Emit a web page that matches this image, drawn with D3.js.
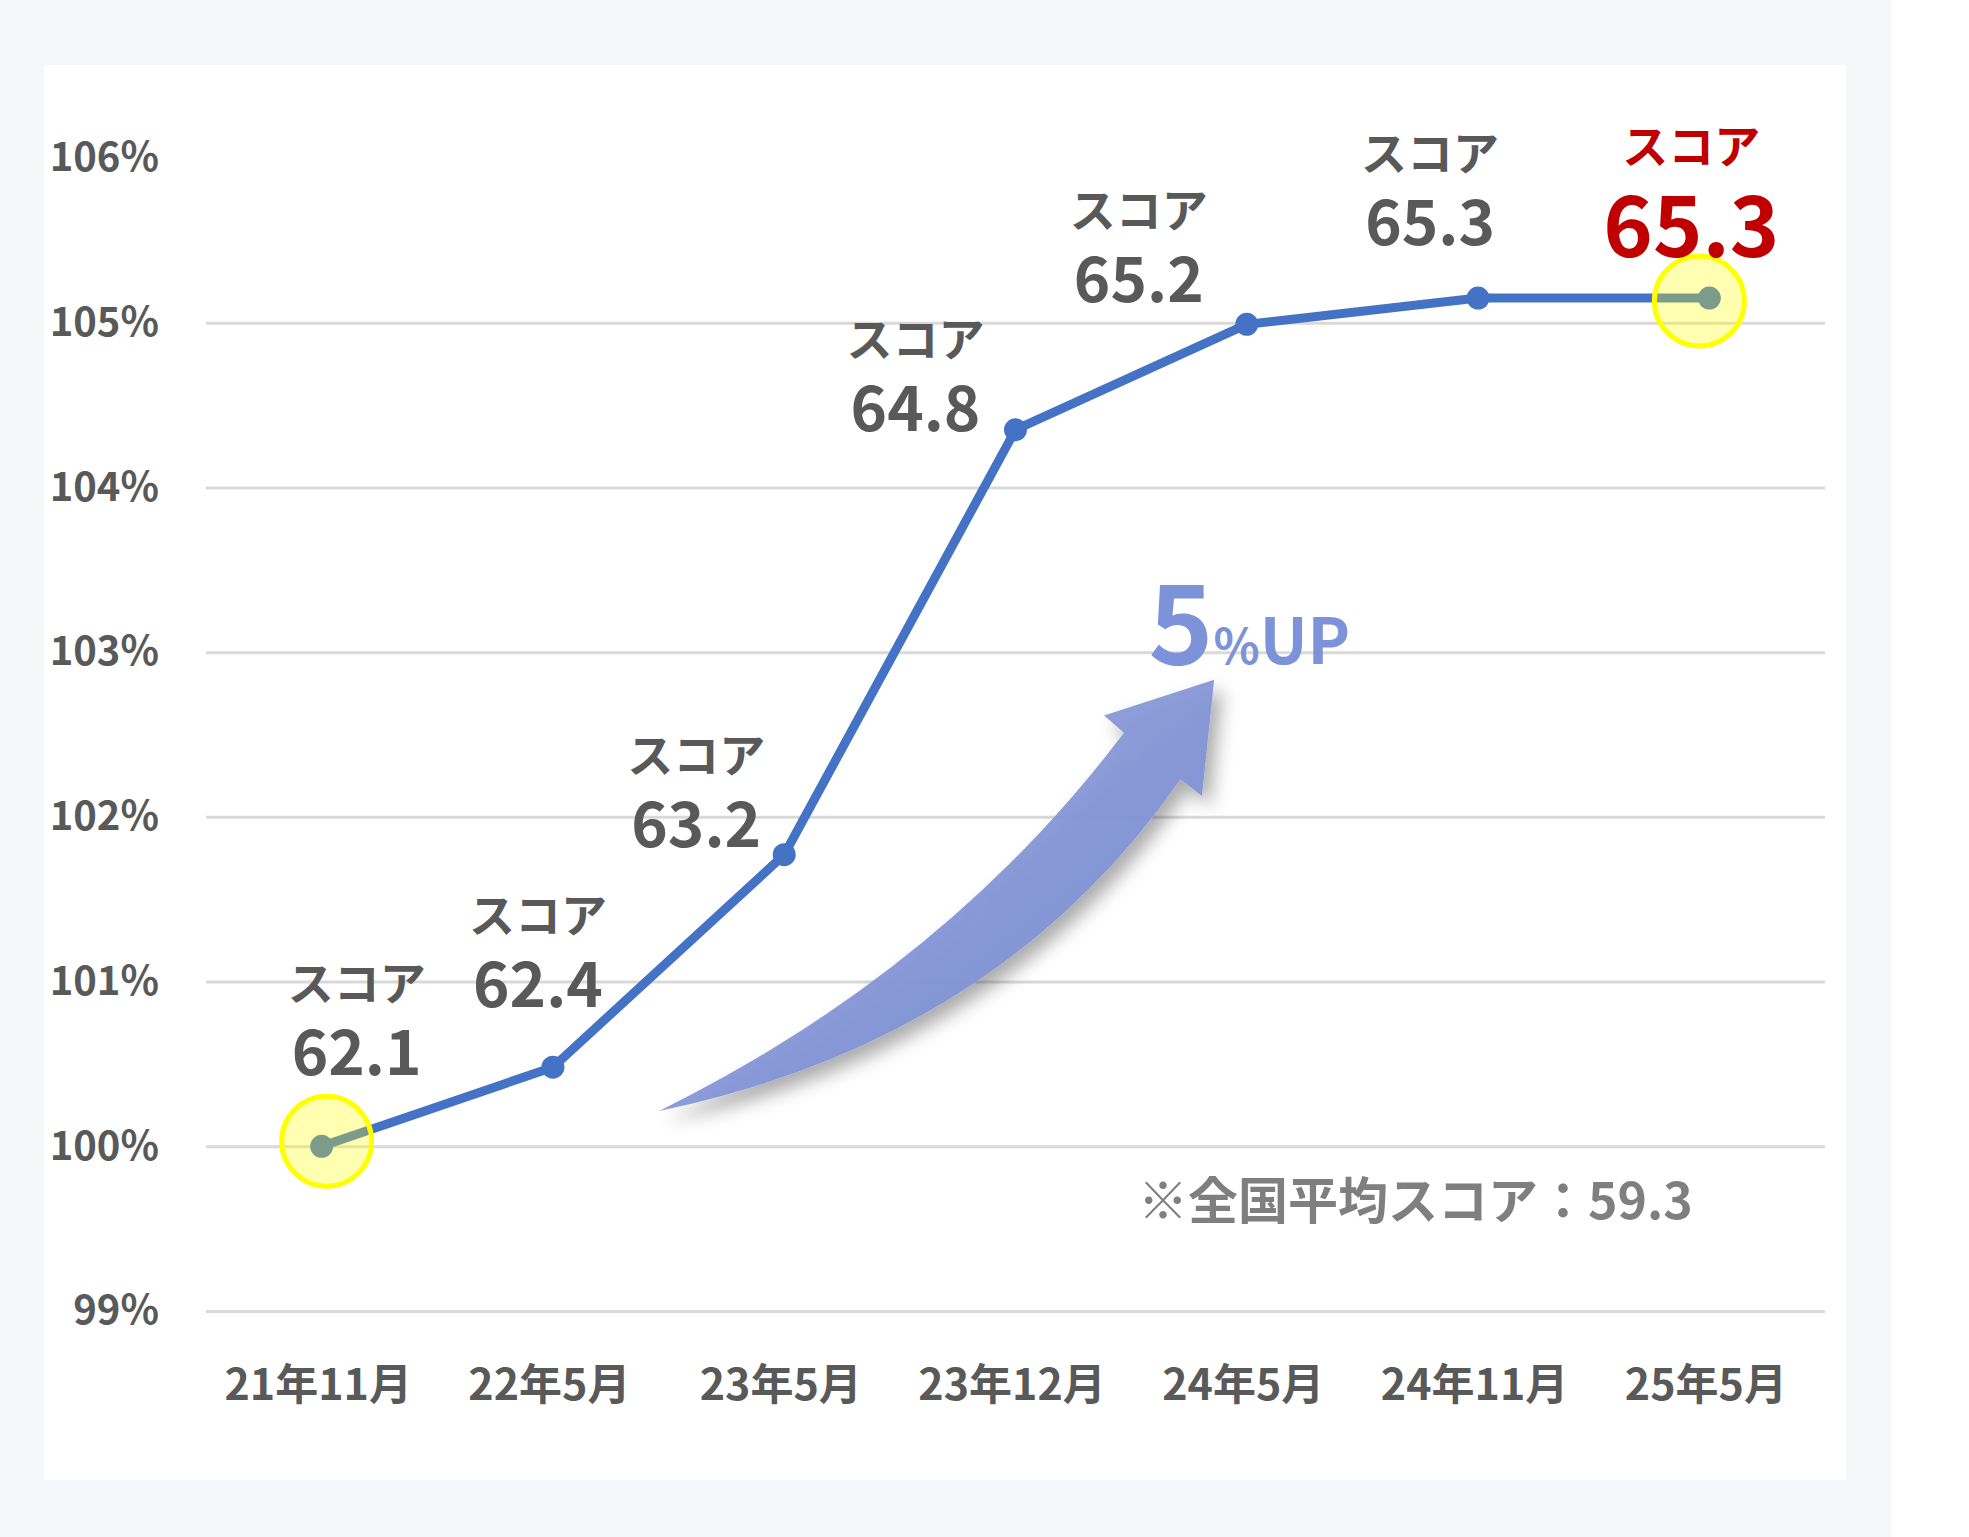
<!DOCTYPE html>
<html>
<head>
<meta charset="utf-8">
<script src="https://d3js.org/d3.v7.min.js"></script>
<style>
  body { margin: 0; background: #ffffff; }
  text { font-family: "Noto Sans CJK JP", "Noto Sans", sans-serif; }
</style>
</head>
<body>
<div id="chart"></div>
<script>
// data
var categories = ["21年11月", "22年5月", "23年5月", "23年12月", "24年5月", "24年11月", "25年5月"];
var ratios = [100, 100.48, 101.77, 104.35, 104.99, 105.15, 105.15];   // % of first score
var scores = [62.1, 62.4, 63.2, 64.8, 65.2, 65.3, 65.3];
var yTicks = [99, 100, 101, 102, 103, 104, 105, 106];
var gridTicks = [99, 100, 101, 102, 103, 104, 105];   // no line drawn at the top tick
var highlighted = [0, 6];
var nationalAverage = 59.3;

// label placement (px from the point) : [dx, dy of the number baseline]
var labelOffsets = [[35, -71], [-15, -60], [-88, -8], [-100, 1], [-108, -22], [-48, -53], [-18, -41]];

var W = 1969, H = 1537;
var plot = {left: 206, right: 1825, top: 158, bottom: 1311};

var svg = d3.select("#chart").append("svg")
    .attr("width", W)
    .attr("height", H);

var defs = svg.append("defs");
var grad = defs.append("linearGradient")
    .attr("id", "arrowGrad")
    .attr("x1", 0).attr("y1", 0).attr("x2", 1).attr("y2", 1);
grad.append("stop").attr("offset", "0%").attr("stop-color", "#9aa9e2");
grad.append("stop").attr("offset", "55%").attr("stop-color", "#8395d6");
grad.append("stop").attr("offset", "100%").attr("stop-color", "#7b8dd2");

var shadow = defs.append("filter").attr("id", "shadow")
    .attr("x", "-20%").attr("y", "-20%").attr("width", "150%").attr("height", "150%");
shadow.append("feDropShadow")
    .attr("dx", 8).attr("dy", 10).attr("stdDeviation", 9)
    .attr("flood-color", "#000").attr("flood-opacity", 0.35);

// backgrounds
svg.append("rect").attr("x", 0).attr("y", 0).attr("width", 1891).attr("height", H).attr("fill", "#f6f7f9");
svg.append("rect").attr("x", 44).attr("y", 65).attr("width", 1802).attr("height", 1415).attr("fill", "#ffffff");

var x = d3.scalePoint()
    .domain(categories)
    .range([plot.left, plot.right])
    .padding(0.5);

var y = d3.scaleLinear()
    .domain([99, 106])
    .range([plot.bottom, plot.top]);

// category index -> px (for annotations placed in data space)
var xi = d3.scaleLinear()
    .domain([0, categories.length - 1])
    .range([x(categories[0]), x(categories[categories.length - 1])]);

// gridlines
svg.append("g")
    .attr("transform", "translate(" + plot.left + ",0)")
    .call(d3.axisLeft(y).tickValues(gridTicks).tickSize(-(plot.right - plot.left)).tickFormat(""))
    .call(function(g) { g.select(".domain").remove(); })
    .selectAll("line")
    .attr("stroke", "#d9d9d9")
    .attr("stroke-width", 3);

// y axis labels
svg.append("g")
    .attr("transform", "translate(" + plot.left + ",0)")
    .call(d3.axisLeft(y).tickValues(yTicks).tickSize(0).tickPadding(47).tickFormat(function(d) { return d + "%"; }))
    .call(function(g) { g.select(".domain").remove(); })
    .selectAll("text")
    .attr("fill", "#595959")
    .style("font-size", "40px")
    .style("font-weight", "700")
    .style("font-family", "'Noto Sans CJK JP', sans-serif");

// x axis labels
svg.append("g")
    .attr("transform", "translate(0," + plot.bottom + ")")
    .call(d3.axisBottom(x).tickSize(0).tickPadding(58))
    .call(function(g) { g.select(".domain").remove(); })
    .selectAll("text")
    .attr("fill", "#595959")
    .attr("dx", -4)
    .style("font-size", "43px")
    .style("font-weight", "700")
    .style("font-family", "'Noto Sans CJK JP', sans-serif");

// curved "up" arrow, anchors in data space: [category index, percent]
var arrowPts = {
  tail: [1.459, 100.214],
  cUp: [2.695, 101.071],
  in1: [3.469, 102.511],
  barb1: [3.383, 102.616],
  head: [3.859, 102.832],
  barb2: [3.806, 102.127],
  in2: [3.713, 102.228],
  cLow: [2.933, 100.646]
};
function P(k) { return xi(arrowPts[k][0]) + "," + y(arrowPts[k][1]); }
svg.append("path")
    .attr("d", "M" + P("tail") +
               "Q" + P("cUp") + " " + P("in1") +
               "L" + P("barb1") +
               "L" + P("head") +
               "L" + P("barb2") +
               "L" + P("in2") +
               "Q" + P("cLow") + " " + P("tail") + "Z")
    .attr("fill", "url(#arrowGrad)")
    .attr("fill-opacity", 0.95)
    .attr("filter", "url(#shadow)");

var upText = svg.append("text")
    .attr("x", xi(3.575))
    .attr("y", y(102.926))
    .attr("fill", "#7d93d9")
    .style("font-weight", "700");
upText.append("tspan").style("font-size", "110px").text("5");
upText.append("tspan").style("font-size", "48px").text("%");
upText.append("tspan").style("font-size", "64px").text("UP");

// the line
var line = d3.line()
    .x(function(d, i) { return x(categories[i]); })
    .y(function(d) { return y(d); });

svg.append("path")
    .datum(ratios)
    .attr("fill", "none")
    .attr("stroke", "#4472c4")
    .attr("stroke-width", 9)
    .attr("stroke-linejoin", "round")
    .attr("d", line);

svg.selectAll(".pt")
    .data(ratios)
    .enter().append("circle")
    .attr("class", "pt")
    .attr("cx", function(d, i) { return x(categories[i]); })
    .attr("cy", function(d) { return y(d); })
    .attr("r", 11.5)
    .attr("fill", "#4472c4");

// highlight rings
svg.selectAll(".ring")
    .data(highlighted)
    .enter().append("circle")
    .attr("class", "ring")
    .attr("cx", function(i) { return x(categories[i]) + (i === 0 ? 5 : -10); })
    .attr("cy", function(i) { return y(ratios[i]) + (i === 0 ? -5 : 3); })
    .attr("r", 45)
    .attr("fill", "rgba(255,255,0,0.3)")
    .attr("stroke", "#ffff00")
    .attr("stroke-width", 5);

// data labels
var labels = svg.selectAll(".lbl")
    .data(scores)
    .enter().append("g")
    .attr("class", "lbl")
    .attr("transform", function(d, i) {
      return "translate(" + (x(categories[i]) + labelOffsets[i][0]) + "," + (y(ratios[i]) + labelOffsets[i][1]) + ")";
    });

labels.append("text")
    .attr("text-anchor", "middle")
    .attr("y", function(d, i) { return i === scores.length - 1 ? -94 : -75; })
    .attr("fill", function(d, i) { return i === scores.length - 1 ? "#c00000" : "#595959"; })
    .style("font-size", "46px")
    .style("font-weight", "700")
    .text("スコア");

labels.append("text")
    .attr("text-anchor", "middle")
    .attr("fill", function(d, i) { return i === scores.length - 1 ? "#c00000" : "#595959"; })
    .style("font-size", function(d, i) { return i === scores.length - 1 ? "84px" : "62px"; })
    .style("font-weight", "700")
    .text(function(d) { return d.toFixed(1); });

// note
svg.append("text")
    .attr("x", xi(3.53))
    .attr("y", y(99.56))
    .attr("fill", "#7f7f7f")
    .style("font-size", "50px")
    .style("font-weight", "700")
    .text("※全国平均スコア：" + nationalAverage);
</script>
</body>
</html>
